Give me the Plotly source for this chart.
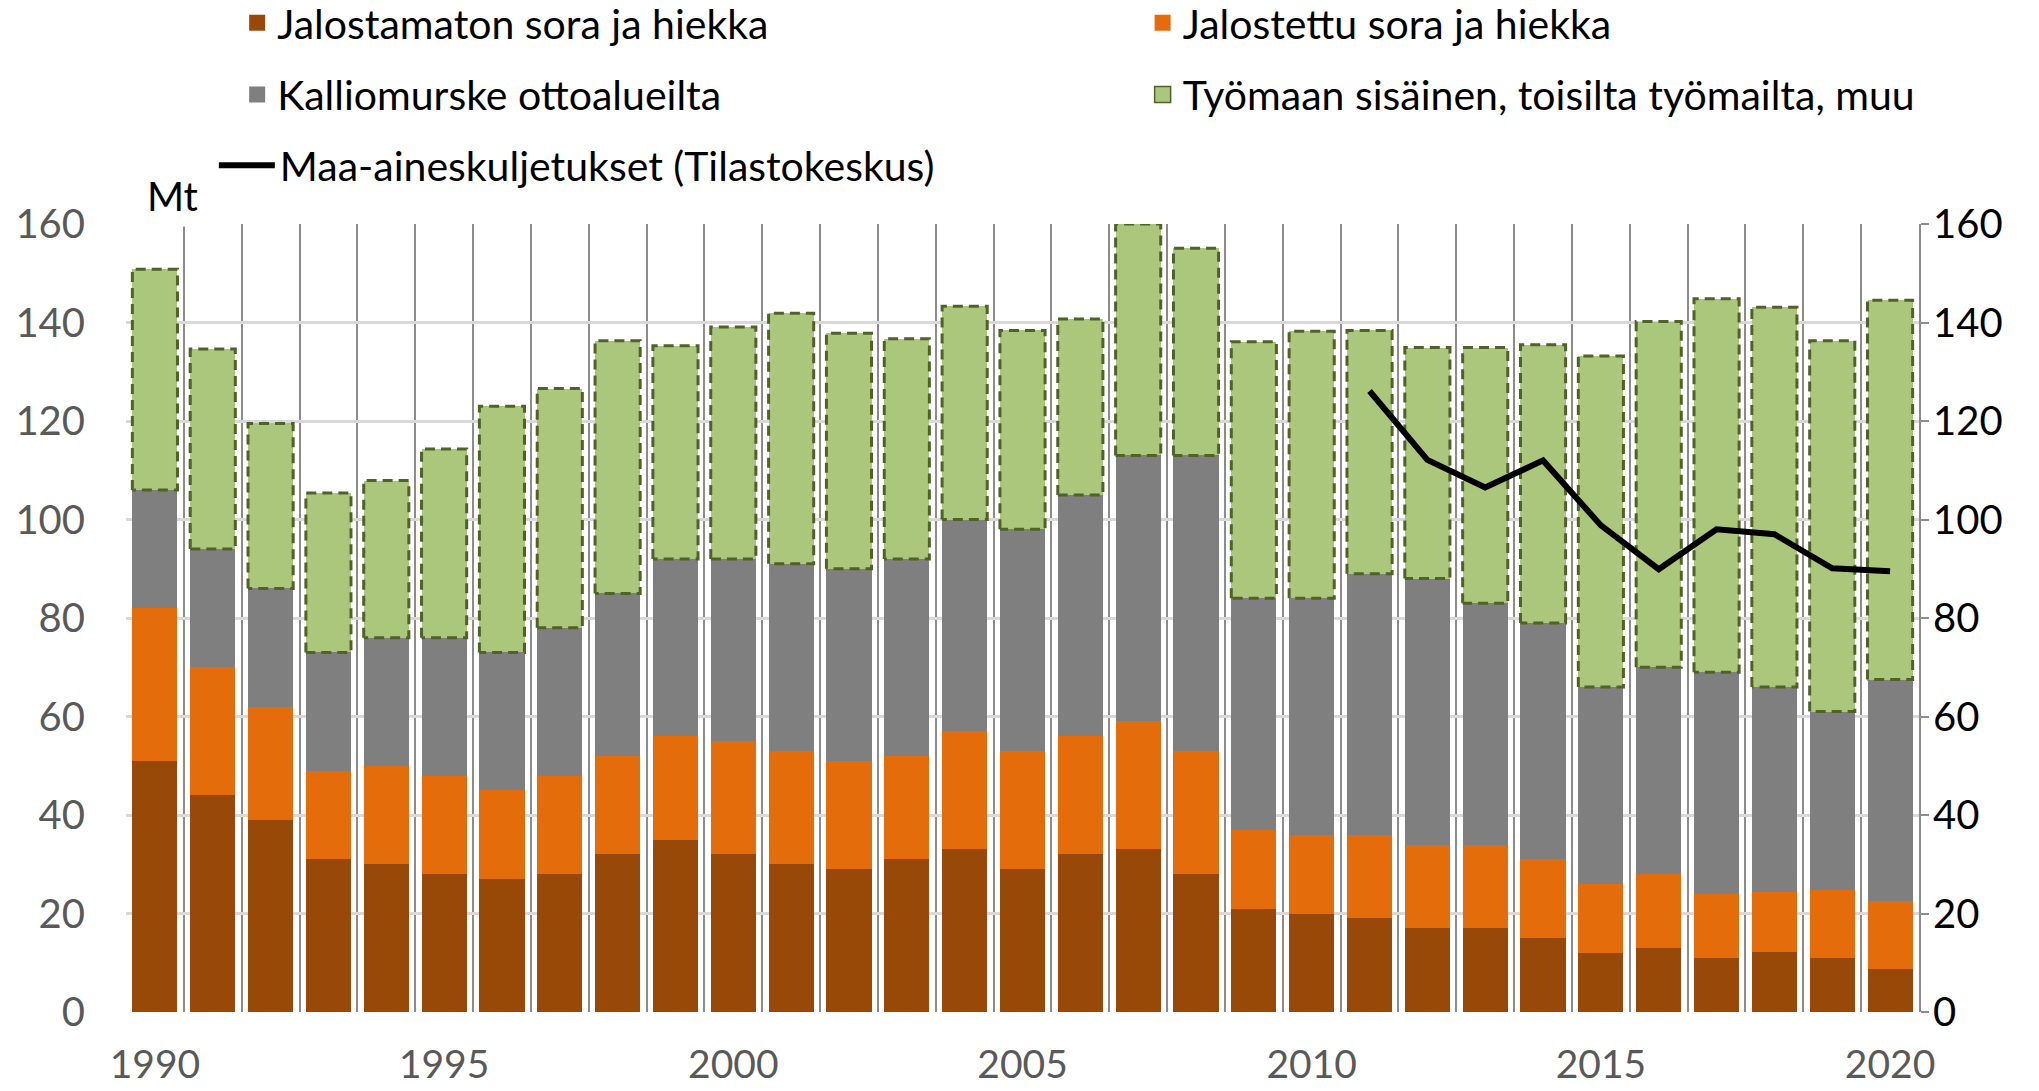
import plotly.graph_objects as go

years = list(range(1990, 2021))

jalostamaton = [51, 44, 39, 31, 30, 28, 27, 28, 32, 35, 32, 30, 29, 31, 33, 29, 32, 33, 28,
                21, 20, 19, 17, 17, 15, 12, 13, 11, 12.2, 11, 8.8]
jalostettu = [31, 26, 23, 18, 20, 20, 18, 20, 20, 21, 23, 23, 22, 21, 24, 24, 24, 26, 25,
              16, 16, 17, 17, 17, 16, 14, 15, 13, 12.2, 13.8, 13.8]
kalliomurske = [24, 24, 24, 24, 26, 28, 28, 30, 33, 36, 37, 38, 39, 40, 43, 45, 49, 54, 60,
                47, 48, 53, 54, 49, 48, 40, 42, 45, 41.6, 36.2, 44.9]
tyomaa = [44.8, 40.6, 33.5, 32.4, 31.9, 38.3, 50, 48.6, 51.3, 43.3, 47.1, 50.9, 47.8, 44.7,
          43.3, 40.4, 35.7, 47, 42.1, 52.1, 54.2, 49.4, 46.9, 51.9, 56.5, 67.2, 70.2, 75.8,
          77.1, 75.3, 77]

line_years = list(range(2011, 2021))
kuljetukset = [126.1, 112.1, 106.5, 112, 98.8, 89.9, 98, 97, 90.1, 89.5]

x_ticks = [1990, 1995, 2000, 2005, 2010, 2015, 2020]
y_ticks = [0, 20, 40, 60, 80, 100, 120, 140, 160]

names = ["Jalostamaton sora ja hiekka", "Jalostettu sora ja hiekka",
         "Kalliomurske ottoalueilta", "Työmaan sisäinen, toisilta työmailta, muu",
         "Maa-aineskuljetukset (Tilastokeskus)"]

FONT = "Lato, 'Open Sans', sans-serif"
BW = 0.78
C_BROWN = "#984807"
C_ORANGE = "#e46c0a"
C_GRAY = "#7f7f7f"
C_GREEN = "#abc77b"
C_OLIVE = "#4f6228"

fig = go.Figure()
series = [(jalostamaton, C_BROWN, "legend"), (jalostettu, C_ORANGE, "legend2"),
          (kalliomurske, C_GRAY, "legend3"), (tyomaa, C_GREEN, "legend4")]
for (vals, col, lg), nm in zip(series, names):
    fig.add_trace(go.Bar(x=years, y=vals, name=nm, width=BW, marker_color=col,
                         marker_line_width=0, showlegend=False))
    # legend swatch (larger square than the fixed bar icon)
    fig.add_trace(go.Scatter(x=[None], y=[None], mode="markers", name=nm, legend=lg,
                             marker=dict(symbol="square", size=16, color=col,
                                         line=dict(width=1.5 if col == C_GREEN else 0,
                                                   color=C_OLIVE))))

# dashed outline for the green segments
ox, oy = [], []
for i, yr in enumerate(years):
    base = jalostamaton[i] + jalostettu[i] + kalliomurske[i]
    top = base + tyomaa[i]
    l, r = yr - BW / 2, yr + BW / 2
    ox += [l, l, r, r, l, None]
    oy += [base, top, top, base, base, None]
fig.add_trace(go.Scatter(x=ox, y=oy, mode="lines", showlegend=False, hoverinfo="skip",
                         line=dict(color=C_OLIVE, width=3, dash="10px,6px")))

fig.add_trace(go.Scatter(x=line_years, y=kuljetukset, mode="lines", name=names[4],
                         yaxis="y2", legend="legend5",
                         line=dict(color="black", width=6)))

def leg(x, y, iw=30):
    return dict(x=x, y=y, xanchor="left", yanchor="middle", orientation="h",
                itemwidth=iw, bgcolor="rgba(0,0,0,0)",
                font=dict(family=FONT, size=41, color="black"))

fig.update_layout(
    width=2039, height=1091,
    margin=dict(l=126, r=120, t=224, b=79, autoexpand=False),
    paper_bgcolor="white", plot_bgcolor="white",
    barmode="stack", bargap=0.22,
    font=dict(family=FONT, size=40, color="#595959"),
    legend=leg(0.062, 1.255),
    legend2=leg(0.567, 1.255),
    legend3=leg(0.062, 1.164),
    legend4=leg(0.567, 1.164),
    legend5=leg(0.049, 1.074, iw=56),
    xaxis=dict(range=[1989.5, 2020.5], tickvals=x_ticks, showgrid=False, zeroline=False,
               showline=False, ticks="", ticklabelstandoff=26,
               tickfont=dict(size=39, color="#595959"),
               minor=dict(tick0=1989.5, dtick=1, showgrid=True, gridcolor="#8c8c8c",
                          gridwidth=1.5, ticks="")),
    yaxis=dict(range=[0, 160], tickvals=y_ticks, showgrid=True, gridcolor="#d9d9d9",
               gridwidth=2.5, zeroline=False, showline=False, ticks="",
               ticklabelstandoff=40, tickfont=dict(size=40, color="#595959")),
    yaxis2=dict(range=[0, 160], tickvals=y_ticks, overlaying="y", side="right",
                showgrid=False, zeroline=False, showline=True, linecolor="#8c8c8c",
                linewidth=2, ticks="outside", ticklen=8, tickcolor="#8c8c8c",
                tickwidth=2, ticklabelstandoff=-4,
                tickfont=dict(size=40, color="black")),
    annotations=[dict(text="Mt", xref="paper", yref="paper", x=0.026, y=1.035,
                      xanchor="center", yanchor="middle", showarrow=False,
                      bgcolor="white", borderpad=6,
                      font=dict(family=FONT, size=40, color="black"))],
)

fig.write_html("out.html", config={"displayModeBar": False},
               post_script="document.body.style.margin='0';document.body.style.overflow='hidden';")
